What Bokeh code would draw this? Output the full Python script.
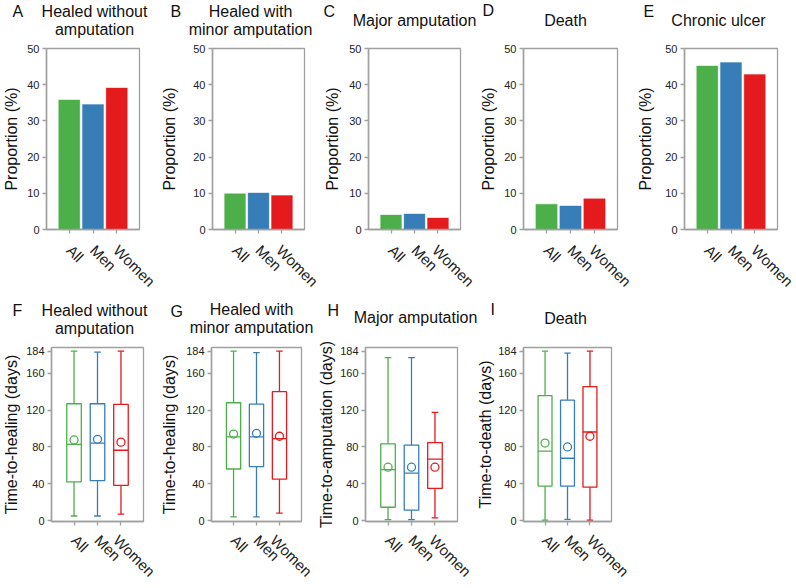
import math
from bokeh.plotting import figure
from bokeh.models import Range1d, FactorRange, FixedTicker, ColumnDataSource
from bokeh.transform import dodge
from bokeh.layouts import row, column
from bokeh.core.properties import value
from bokeh.embed import file_html
from bokeh.resources import INLINE

FONT = "Liberation Sans"
GREY = "#a0a0a0"
TEXT_DY = -5   # correction for the text baseline placement

groups = ["All", "Men", "Women"]
colors = ["#4daf4a", "#377eb8", "#e41a1c"]

# ---- top row: proportion (%) ----
prop_healed_wo = [35.8, 34.5, 39.1]
prop_healed_minor = [9.9, 10.1, 9.4]
prop_major_amp = [4.0, 4.3, 3.2]
prop_death = [7.0, 6.5, 8.5]
prop_chronic = [45.2, 46.1, 42.8]
prop_ticks = [0, 10, 20, 30, 40, 50]

# ---- bottom row: time (days) box statistics ----
days_ticks = [0, 40, 80, 120, 160, 184]
F_low = [5, 5, 7];    F_q1 = [42, 43.5, 38.2]; F_med = [82.7, 84.1, 76.4]
F_q3 = [126.9, 126.9, 126.2]; F_up = [184, 183, 184]; F_mean = [87.6, 88.3, 85.2]
G_low = [4, 4, 8];    G_q1 = [56, 58.5, 45];   G_med = [91, 91, 89]
G_q3 = [128, 126.5, 140]; G_up = [184, 182.5, 184]; G_mean = [94, 94.8, 91.6]
H_low = [1, 1, 3];    H_q1 = [14.5, 11.4, 34.9]; H_med = [55.3, 51.5, 66.8]
H_q3 = [83.4, 82, 84.7]; H_up = [177, 177, 117.6]; H_mean = [58, 58, 58]
I_low = [0.5, 1.4, 0.5]; I_q1 = [37.4, 37.4, 36.3]; I_med = [75.4, 67.7, 96.2]
I_q3 = [135.7, 130.8, 145.6]; I_up = [184, 181.9, 184]; I_mean = [84.2, 80, 91.6]

# panel letters and titles
letters_top = ["A", "B", "C", "D", "E"]
titles_top = [["Healed without", "amputation"], ["Healed with", "minor amputation"],
              ["Major amputation"], ["Death"], ["Chronic ulcer"]]
letters_bot = ["F", "G", "H", "I"]
titles_bot = [["Healed without", "amputation"], ["Healed with", "minor amputation"],
              ["Major amputation"], ["Death"]]
ylabel_top = "Proportion (%)"
ylabels_bot = ["Time-to-healing (days)", "Time-to-healing (days)",
               "Time-to-amputation (days)", "Time-to-death (days)"]


def base_fig(x0, x1, fl, fr, y0, y1, ft, fb, yr, ticks, ylabel, lab_sd, x_sd):
    p = figure(width=x1 - x0, height=y1 - y0,
               x_range=FactorRange(factors=groups, range_padding=0.46,
                                   range_padding_units="absolute"),
               y_range=Range1d(*yr), output_backend="svg",
               toolbar_location=None, title=None,
               min_border_left=fl - x0, min_border_right=x1 - fr,
               min_border_top=ft - y0, min_border_bottom=y1 - fb)
    p.background_fill_color = "white"
    p.border_fill_color = "white"
    p.outline_line_color = GREY
    p.outline_line_width = 1.3
    p.xgrid.visible = False
    p.ygrid.visible = False
    for ax in (p.xaxis, p.yaxis):
        ax.axis_line_color = GREY
        ax.axis_line_width = 1.5
        ax.major_tick_line_color = GREY
        ax.major_tick_line_width = 1.3
        ax.major_tick_in = 0
        ax.major_tick_out = 4
        ax.minor_tick_line_color = None
        ax.major_label_text_font = FONT
        ax.major_label_text_color = "#222222"
    p.yaxis.ticker = FixedTicker(ticks=ticks)
    p.yaxis.major_label_text_font_size = "11px"
    p.yaxis.major_label_standoff = 3
    p.yaxis.axis_label = ylabel
    p.yaxis.axis_label_text_font = FONT
    p.yaxis.axis_label_text_font_size = "16px"
    p.yaxis.axis_label_text_font_style = "normal"
    p.yaxis.axis_label_text_color = "#111111"
    p.yaxis.axis_label_standoff = lab_sd
    p.xaxis.major_label_text_font_size = "15px"
    p.xaxis.major_label_orientation = -math.pi / 4
    p.xaxis.major_label_standoff = x_sd
    return p


def title_fig(y_top, y_bot, letters, letter_pos, titles, title_pos):
    t = figure(width=796, height=y_bot - y_top, x_range=Range1d(0, 796),
               y_range=Range1d(y_bot, y_top), x_axis_type=None, y_axis_type=None,
               title=None, min_border=0, toolbar_location=None, output_backend="svg")
    t.outline_line_color = None
    t.background_fill_color = "white"
    t.border_fill_color = "white"
    lx = [pp[0] for pp in letter_pos]
    ly = [pp[1] + TEXT_DY for pp in letter_pos]
    t.text(x=lx, y=ly, text=letters, text_align="left", text_baseline="alphabetic",
           text_font=value(FONT), text_font_size=value("16px"), text_color="#111111")
    tx, ty, tt = [], [], []
    for lines, (cx, by) in zip(titles, title_pos):
        for i, line in enumerate(lines):
            tx.append(cx)
            ty.append(by + 18 * i + TEXT_DY)
            tt.append(line)
    t.text(x=tx, y=ty, text=tt, text_align="center", text_baseline="alphabetic",
           text_font=value(FONT), text_font_size=value("16px"), text_color="#111111")
    return t


# ---------------- top row ----------------
top_vals = [prop_healed_wo, prop_healed_minor, prop_major_amp, prop_death, prop_chronic]
top_cols = [(0, 158), (158, 321), (321, 477), (477, 634), (634, 796)]
top_frames = [(42, 139), (208, 304), (363, 460), (519, 617), (680, 777)]
top_lab_sd = [4, 12, 5, 4, 8]
top_figs = []
for vals, (x0, x1), (fl, fr), sd in zip(top_vals, top_cols, top_frames, top_lab_sd):
    p = base_fig(x0, x1, fl, fr, 41, 298, 48, 230, (0, 50), prop_ticks, ylabel_top, sd, 14)
    src = ColumnDataSource(dict(cat=groups, val=vals, color=colors))
    p.vbar(x="cat", top="val", bottom=0, width=0.89, fill_color="color",
           line_color="color", line_alpha=0.35, source=src)
    top_figs.append(p)

tfig1 = title_fig(0, 41, letters_top,
                  [(12, 16), (170, 16), (323, 16), (482, 15), (643, 16)],
                  titles_top,
                  [(94, 16), (250, 16), (414, 25), (565, 25), (718, 25)])

# ---------------- bottom row ----------------
bot_stats = [(F_low, F_q1, F_med, F_q3, F_up, F_mean),
             (G_low, G_q1, G_med, G_q3, G_up, G_mean),
             (H_low, H_q1, H_med, H_q3, H_up, H_mean),
             (I_low, I_q1, I_med, I_q3, I_up, I_mean)]
bot_cols = [(0, 158), (158, 315), (315, 474), (474, 640)]
bot_frames = [(49, 143), (207, 301), (361, 457), (519, 611)]
bot_lab_sd = [3, 5, 2, 1]
bot_figs = []
for stats, (x0, x1), (fl, fr), sd, ylabel in zip(bot_stats, bot_cols, bot_frames,
                                                  bot_lab_sd, ylabels_bot):
    low, q1, med, q3, up, mean = stats
    p = base_fig(x0, x1, fl, fr, 340, 588, 347, 526, (-1, 188), days_ticks, ylabel, sd, 12)
    src = ColumnDataSource(dict(cat=groups, low=low, q1=q1, med=med, q3=q3,
                                up=up, mean=mean, color=colors))
    lw = 1.3
    p.segment(x0="cat", x1="cat", y0="q3", y1="up", line_color="color", line_width=lw, source=src)
    p.segment(x0="cat", x1="cat", y0="q1", y1="low", line_color="color", line_width=lw, source=src)
    p.segment(x0=dodge("cat", -0.14, range=p.x_range), x1=dodge("cat", 0.14, range=p.x_range),
              y0="up", y1="up", line_color="color", line_width=lw, source=src)
    p.segment(x0=dodge("cat", -0.14, range=p.x_range), x1=dodge("cat", 0.14, range=p.x_range),
              y0="low", y1="low", line_color="color", line_width=lw, source=src)
    p.vbar(x="cat", bottom="q1", top="q3", width=0.62, fill_color=None,
           line_color="color", line_width=lw, source=src)
    p.segment(x0=dodge("cat", -0.31, range=p.x_range), x1=dodge("cat", 0.31, range=p.x_range),
              y0="med", y1="med", line_color="color", line_width=lw, source=src)
    p.scatter(x="cat", y="mean", marker="circle", size=8, fill_color=None,
              line_color="color", line_width=lw, source=src)
    bot_figs.append(p)

tfig2 = title_fig(298, 340, letters_bot,
                  [(12, 315), (170, 316), (327, 315), (490, 314)],
                  titles_bot,
                  [(94, 315), (251, 314), (415, 322), (565, 323)])

layout = column(tfig1, row(*top_figs), tfig2, row(*bot_figs))
open("out.html", "w").write(file_html(layout, INLINE))
